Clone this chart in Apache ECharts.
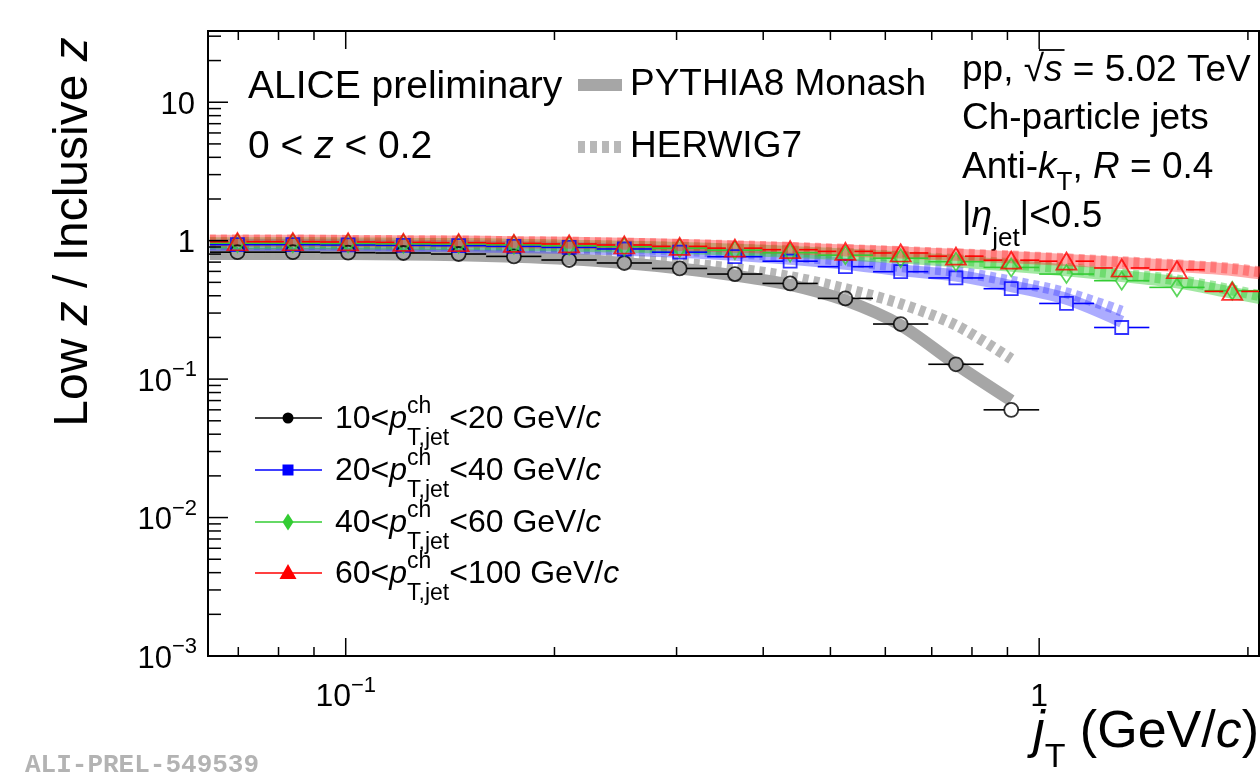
<!DOCTYPE html>
<html><head><meta charset="utf-8">
<script src="https://cdn.jsdelivr.net/npm/echarts/dist/echarts.min.js"></script>
<style>html,body{margin:0;padding:0;background:#fff}#c{width:1260px;height:773px}</style>
</head><body><div id="c"></div>
<script>
// ---------- data ----------
const xCenters = [0.0698,0.0839,0.1008,0.1211,0.1455,0.1748,0.2100,0.2522,0.3031,0.3641,0.4374,0.5255,0.6314,0.7586,0.9114,1.0949,1.3154,1.5803,1.8986];
const xEdges   = [0.0637,0.0765,0.0919,0.1104,0.1327,0.1594,0.1915,0.2301,0.2764,0.3321,0.3990,0.4794,0.5760,0.6920,0.8314,1.0000,1.2000,1.4417,1.7321,2.0810];

const data10_20  = [0.826,0.826,0.819,0.815,0.801,0.770,0.725,0.690,0.630,0.574,0.491,0.383,0.250,0.128,0.060];
const data20_40  = [0.936,0.936,0.931,0.925,0.920,0.910,0.895,0.871,0.826,0.766,0.711,0.649,0.597,0.538,0.450,0.352,0.236];
const data40_60  = [0.959,0.959,0.956,0.951,0.947,0.936,0.920,0.905,0.883,0.854,0.819,0.786,0.747,0.705,0.641,0.574,0.514,0.460,0.435];
const data60_100 = [0.983,0.983,0.979,0.972,0.967,0.956,0.947,0.931,0.910,0.883,0.861,0.837,0.815,0.773,0.723,0.711,0.635,0.617,0.430];

// model curves at the bin centres (last value of the 40-60 / 60-100 lists is at the right frame)
const pythia10_20  = [0.80,0.80,0.80,0.795,0.785,0.765,0.735,0.69,0.63,0.56,0.48,0.37,0.245,0.128,0.07];
const herwig10_20  = [0.82,0.82,0.82,0.815,0.81,0.795,0.77,0.735,0.69,0.63,0.55,0.45,0.35,0.245,0.14];
const pythia20_40  = [0.93,0.93,0.925,0.92,0.91,0.90,0.885,0.86,0.83,0.79,0.74,0.68,0.61,0.56,0.47,0.38,0.26];
const herwig20_40  = [0.94,0.94,0.935,0.93,0.925,0.915,0.90,0.88,0.85,0.815,0.77,0.715,0.65,0.60,0.51,0.42,0.31];
const pythia40_60  = [0.96,0.96,0.955,0.95,0.945,0.935,0.92,0.905,0.885,0.86,0.83,0.795,0.755,0.71,0.66,0.61,0.555,0.50,0.42,0.385];
const herwig40_60  = [0.97,0.97,0.965,0.96,0.955,0.945,0.93,0.915,0.895,0.87,0.845,0.81,0.77,0.73,0.68,0.63,0.575,0.52,0.44,0.40];
const pythia60_100 = [1.0,1.0,0.995,0.99,0.985,0.975,0.965,0.95,0.93,0.905,0.88,0.85,0.82,0.79,0.76,0.725,0.69,0.655,0.615,0.58];
const herwig60_100 = [1.01,1.01,1.005,1.0,0.995,0.985,0.975,0.96,0.94,0.92,0.895,0.865,0.835,0.805,0.775,0.74,0.705,0.67,0.63,0.595];

const xTickMajor = [0.1, 1];
const xTickMinor = [0.07,0.08,0.09,0.2,0.3,0.4,0.5,0.6,0.7,0.8,0.9,2];
const xTickLabels = [['10','−1'], ['1','']];
const yTickMajor = [0.001, 0.01, 0.1, 1, 10];
const yTickLabels = [['10','−3'], ['10','−2'], ['10','−1'], ['1',''], ['10','']];

const X_MIN = 0.0633, X_MAX = 2.075, Y_MIN = 0.001, Y_MAX = 32.7;
const FF = '"Liberation Sans", Arial, Helvetica, sans-serif';

// ---------- helpers ----------
const mctx = document.createElement('canvas').getContext('2d');
function measure(t, s, it, fam) { mctx.font = (it ? 'italic ' : '') + s + 'px ' + (fam || FF); return mctx.measureText(t).width; }
function textRun(x, y, parts, opts) {
  opts = opts || {};
  const align = opts.align || 'left', color = opts.color || '#000';
  let w = 0; const laid = [];
  parts.forEach(p => {
    const w1 = measure(p.t, p.s, p.it);
    let adv = w1;
    laid.push({t: p.t, s: p.s, it: p.it, dx: w, dy: p.dy || 0});
    if (p.sub) {
      const w2 = measure(p.sub, p.subS || p.s, false);
      laid.push({t: p.sub, s: p.subS || p.s, it: false, dx: w, dy: p.subDy || 0});
      adv = Math.max(w1, w2);
    }
    w += adv;
  });
  const x0 = align === 'left' ? x : (align === 'right' ? x - w : x - w / 2);
  return laid.map(q => ({type: 'text', x: x0 + q.dx, y: y + q.dy, silent: true,
    style: {text: q.t, fontSize: q.s, fontFamily: FF, fontStyle: q.it ? 'italic' : 'normal', fill: color, align: 'left', verticalAlign: 'middle'}}));
}

// minor y ticks (2..9 per decade)
const yTickMinor = [];
[0.001, 0.01, 0.1, 1, 10].forEach(d => { for (let k = 2; k <= 9; k++) { const v = d * k; if (v < Y_MAX) yTickMinor.push(+v.toPrecision(3)); } });

// ---------- series builders ----------
function band(vals, n, toEdge, color, dashed) {
  const pts = [[xEdges[0], vals[0]]];
  for (let i = 0; i < n; i++) pts.push([xCenters[i], vals[i]]);
  if (toEdge) pts.push([xEdges[xEdges.length - 1], vals[n]]);
  return {type: 'line', data: pts, smooth: 0.3, showSymbol: false, symbol: 'none', silent: true, z: 1,
    lineStyle: {color: color, width: dashed ? 11 : 12, type: dashed ? [6, 5] : 'solid', cap: 'butt'}};
}
function errBars(vals, color, gap) {
  return {type: 'custom', coordinateSystem: 'cartesian2d', clip: true, silent: true, z: 5,
    data: vals.map((v, i) => [xCenters[i], v, xEdges[i], xEdges[i + 1]]),
    renderItem: (params, api) => {
      const c = api.coord([api.value(0), api.value(1)]);
      const l = api.coord([api.value(2), api.value(1)]);
      const h = api.coord([api.value(3), api.value(1)]);
      return {type: 'group', children: [
        {type: 'line', shape: {x1: l[0], y1: c[1], x2: c[0] - gap, y2: c[1]}, style: {stroke: color, lineWidth: 1.6}},
        {type: 'line', shape: {x1: c[0] + gap, y1: c[1], x2: h[0], y2: c[1]}, style: {stroke: color, lineWidth: 1.6}}
      ]};
    }};
}
function markers(vals, color, symbol, size) {
  return {type: 'scatter', data: vals.map((v, i) => [xCenters[i], v]), symbol: symbol, symbolSize: size, silent: true, z: 6,
    itemStyle: {color: 'rgba(0,0,0,0)', borderColor: color, borderWidth: 1.8}};
}

const tickData = [];
xTickMajor.forEach(v => tickData.push([v, Y_MIN, 0, 18]));
xTickMinor.forEach(v => tickData.push([v, Y_MIN, 0, 9]));
yTickMajor.forEach(v => tickData.push([X_MIN, v, 1, 20]));
yTickMinor.forEach(v => tickData.push([X_MIN, v, 1, 13]));

const ticksSeries = {type: 'custom', coordinateSystem: 'cartesian2d', clip: false, silent: true, z: 10,
  data: tickData,
  renderItem: (params, api) => {
    const kind = api.value(2), len = api.value(3);
    if (kind === 0) {
      const b = api.coord([api.value(0), Y_MIN]), t = api.coord([api.value(0), Y_MAX]);
      return {type: 'group', children: [
        {type: 'line', shape: {x1: b[0], y1: b[1], x2: b[0], y2: b[1] - len}, style: {stroke: '#000', lineWidth: 1.5}},
        {type: 'line', shape: {x1: t[0], y1: t[1], x2: t[0], y2: t[1] + len}, style: {stroke: '#000', lineWidth: 1.5}}
      ]};
    }
    const l = api.coord([X_MIN, api.value(1)]);
    return {type: 'line', shape: {x1: l[0], y1: l[1], x2: l[0] + len, y2: l[1]}, style: {stroke: '#000', lineWidth: 1.5}};
  }};

const xLabelSeries = {type: 'custom', coordinateSystem: 'cartesian2d', clip: false, silent: true, z: 10,
  data: xTickMajor.map(v => [v, Y_MIN]),
  renderItem: (params, api) => {
    const p = api.coord([api.value(0), Y_MIN]);
    const lab = xTickLabels[params.dataIndex];
    const parts = [{t: lab[0], s: 32, dy: 0}];
    if (lab[1]) parts.push({t: lab[1], s: 22, dy: -11});
    return {type: 'group', children: textRun(p[0], p[1] + 41, parts, {align: 'center'})};
  }};
const yLabelSeries = {type: 'custom', coordinateSystem: 'cartesian2d', clip: false, silent: true, z: 10,
  data: yTickMajor.map(v => [X_MIN, v]),
  renderItem: (params, api) => {
    const p = api.coord([X_MIN, api.value(1)]);
    const lab = yTickLabels[params.dataIndex];
    const parts = [{t: lab[0], s: 31, dy: 3}];
    if (lab[1]) parts.push({t: lab[1], s: 22, dy: -9});
    return {type: 'group', children: textRun(p[0] - (lab[1] ? 11 : 13), p[1], parts, {align: 'right'})};
  }};

// ---------- colours ----------
const C_BLACK = '#000000', C_BLUE = '#0000ff', C_GREEN = '#33cc33', C_RED = '#ff0000';

const series = [
  band(pythia10_20, 15, false, 'rgba(150,150,150,0.85)', false),
  band(herwig10_20, 15, false, 'rgba(165,165,165,0.8)', true),
  band(pythia20_40, 17, false, 'rgba(70,70,255,0.45)', false),
  band(herwig20_40, 17, false, 'rgba(70,70,255,0.45)', true),
  band(pythia40_60, 19, true, 'rgba(51,204,51,0.45)', false),
  band(herwig40_60, 19, true, 'rgba(51,204,51,0.45)', true),
  band(pythia60_100, 19, true, 'rgba(255,50,50,0.42)', false),
  band(herwig60_100, 19, true, 'rgba(255,50,50,0.42)', true),
  errBars(data10_20, C_BLACK, 7), markers(data10_20, C_BLACK, 'circle', 14),
  errBars(data20_40, C_BLUE, 7), markers(data20_40, C_BLUE, 'rect', 13),
  errBars(data40_60, C_GREEN, 6), markers(data40_60, C_GREEN, 'diamond', [12, 18]),
  errBars(data60_100, C_RED, 9), markers(data60_100, C_RED, 'triangle', [20, 17]),
  ticksSeries, xLabelSeries, yLabelSeries
];

// ---------- annotations ----------
const g = [];
g.push(...textRun(248, 87, [{t: 'ALICE preliminary', s: 39}]));
g.push(...textRun(248, 147, [{t: '0 < ', s: 39}, {t: 'z', s: 39, it: true}, {t: ' < 0.2', s: 39}]));
g.push({type: 'rect', shape: {x: 578, y: 79, width: 44, height: 12}, style: {fill: '#a6a6a6'}, silent: true});
g.push(...textRun(630, 85, [{t: 'PYTHIA8 Monash', s: 37}]));
g.push({type: 'line', shape: {x1: 578, y1: 147, x2: 622, y2: 147}, style: {stroke: '#b8b8b8', lineWidth: 12, lineDash: [7, 5]}, silent: true});
g.push(...textRun(630, 147, [{t: 'HERWIG7', s: 37}]));

// right block
const RS = 37, RX = 962;
g.push(...textRun(RX, 71, [{t: 'pp, ', s: RS}, {t: '√', s: RS}, {t: 's', s: RS, it: true}, {t: ' = 5.02 TeV', s: RS}]));
{
  const sqx = RX + measure('pp, ', RS, false) + measure('√', RS, false) * 0.75;
  const sx2 = RX + measure('pp, ', RS, false) + measure('√', RS, false) + measure('s', RS, true) + 2;
  g.push({type: 'line', shape: {x1: sqx, y1: 50, x2: sx2, y2: 50}, style: {stroke: '#000', lineWidth: 1.8}, silent: true});
}
g.push(...textRun(RX, 119, [{t: 'Ch-particle jets', s: RS}]));
g.push(...textRun(RX, 168, [{t: 'Anti-', s: RS}, {t: 'k', s: RS, it: true}, {t: 'T', s: 26, dy: 15}, {t: ', ', s: RS}, {t: 'R', s: RS, it: true}, {t: ' = 0.4', s: RS}]));
g.push(...textRun(RX, 217, [{t: '|', s: RS}, {t: 'η', s: RS, it: true}, {t: 'jet', s: 26, dy: 22}, {t: '|<0.5', s: RS}]));

// legend for data
const legRows = [
  {y: 418, c: C_BLACK, sym: 'circle', lo: '10', hi: '20'},
  {y: 470, c: C_BLUE, sym: 'rect', lo: '20', hi: '40'},
  {y: 522, c: C_GREEN, sym: 'diamond', lo: '40', hi: '60'},
  {y: 573, c: C_RED, sym: 'triangle', lo: '60', hi: '100'}
];
legRows.forEach(r => {
  g.push({type: 'line', shape: {x1: 255, y1: r.y, x2: 322, y2: r.y}, style: {stroke: r.c, lineWidth: 1.6}, silent: true});
  const mx = 288, my = r.y;
  if (r.sym === 'circle') g.push({type: 'circle', shape: {cx: mx, cy: my, r: 5.5}, style: {fill: r.c}, silent: true});
  if (r.sym === 'rect') g.push({type: 'rect', shape: {x: mx - 5.5, y: my - 5.5, width: 11, height: 11}, style: {fill: r.c}, silent: true});
  if (r.sym === 'diamond') g.push({type: 'polygon', shape: {points: [[mx, my - 8.5], [mx + 5.5, my], [mx, my + 8.5], [mx - 5.5, my]]}, style: {fill: r.c}, silent: true});
  if (r.sym === 'triangle') g.push({type: 'polygon', shape: {points: [[mx, my - 9], [mx + 8.5, my + 6], [mx - 8.5, my + 6]]}, style: {fill: r.c}, silent: true});
  g.push(...textRun(335, r.y + 1, [
    {t: r.lo + '<', s: 32}, {t: 'p', s: 32, it: true},
    {t: 'ch', s: 23, dy: -12, sub: 'T,jet', subS: 23, subDy: 20},
    {t: '<' + r.hi + ' GeV/', s: 32}, {t: 'c', s: 32, it: true}
  ]));
});

// axis titles
g.push({type: 'group', x: 74, y: 232, rotation: Math.PI / 2, silent: true,
  children: textRun(0, 0, [{t: 'Low ', s: 48}, {t: 'z', s: 48, it: true}, {t: ' / Inclusive ', s: 48}, {t: 'z', s: 48, it: true}], {align: 'center'})});
g.push(...textRun(1259, 733, [{t: 'j', s: 52, it: true}, {t: 'T', s: 34, dy: 25}, {t: ' (GeV/', s: 52}, {t: 'c', s: 52, it: true}, {t: ')', s: 52}], {align: 'right'}));
g.push({type: 'text', x: 25, y: 765, silent: true, style: {text: 'ALI-PREL-549539', fontSize: 26, fontWeight: 'bold', fontFamily: '"Liberation Mono", "DejaVu Sans Mono", monospace', fill: '#b3b3b3', align: 'left', verticalAlign: 'middle'}});

const chart = echarts.init(document.getElementById('c'), null, {renderer: 'canvas'});
chart.setOption({
  animation: false,
  backgroundColor: '#fff',
  grid: {left: 208, right: 1, top: 31, bottom: 117, show: true, borderColor: '#000', borderWidth: 2, backgroundColor: 'rgba(0,0,0,0)'},
  xAxis: {type: 'log', logBase: 10, min: X_MIN, max: X_MAX, axisLine: {show: false}, axisTick: {show: false}, axisLabel: {show: false}, splitLine: {show: false}},
  yAxis: {type: 'log', logBase: 10, min: Y_MIN, max: Y_MAX, axisLine: {show: false}, axisTick: {show: false}, axisLabel: {show: false}, splitLine: {show: false}},
  series: series,
  graphic: g
});
</script>
</body></html>
